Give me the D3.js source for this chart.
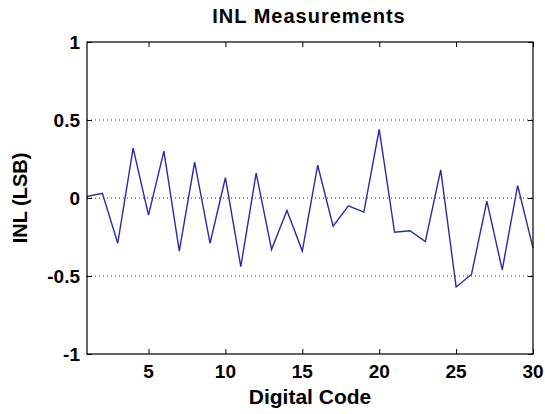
<!DOCTYPE html>
<html>
<head>
<meta charset="utf-8">
<script src="https://cdn.jsdelivr.net/npm/d3@7"></script>
<style>
    html, body { margin: 0; padding: 0; background: #fff; }
    svg { display: block; font-family: Arial, "Liberation Sans", sans-serif; }
</style>
</head>
<body>
<svg id="chart"></svg>
<script>
// INL per digital code
const codes = d3.range(1, 31);
const inl = [0.01, 0.03, -0.29, 0.32, -0.11, 0.30, -0.34, 0.23, -0.29, 0.13,
             -0.44, 0.16, -0.33, -0.08, -0.34, 0.21, -0.18, -0.05, -0.09, 0.44,
             -0.22, -0.21, -0.28, 0.18, -0.57, -0.49, -0.02, -0.46, 0.08, -0.32];
const xTicks = [5, 10, 15, 20, 25, 30];
const yTicks = [-1, -0.5, 0, 0.5, 1];
const gridLines = [-0.5, 0, 0.5];

const width = 545, height = 414;
const margin = { top: 42, right: 12, bottom: 60, left: 87 };

const svg = d3.select('#chart').attr('width', width).attr('height', height);

const x = d3.scaleLinear().domain([1, 30]).range([margin.left, width - margin.right]);
const y = d3.scaleLinear().domain([-1, 1]).range([height - margin.bottom, margin.top]);

// dotted grid
svg.append('g')
    .selectAll('line')
    .data(gridLines)
    .enter().append('line')
    .attr('x1', x(1)).attr('x2', x(30))
    .attr('y1', d => y(d)).attr('y2', d => y(d))
    .attr('stroke', '#333')
    .attr('stroke-width', 1)
    .attr('stroke-dasharray', '1,3');

// data line
const line = d3.line()
    .x((d, i) => x(codes[i]))
    .y(d => y(d));

svg.append('path')
    .datum(inl)
    .attr('fill', 'none')
    .attr('stroke', '#2a2aa8')
    .attr('stroke-width', 1.4)
    .attr('d', line);

// box + inward ticks (matlab style)
const tickLen = 5;
svg.append('g')
    .attr('transform', `translate(0,${y(-1)})`)
    .call(d3.axisBottom(x).tickValues(xTicks).tickSizeInner(-tickLen).tickSizeOuter(0).tickFormat(''))
    .call(g => g.select('.domain').remove());
svg.append('g')
    .attr('transform', `translate(0,${y(1)})`)
    .call(d3.axisTop(x).tickValues(xTicks).tickSizeInner(-tickLen).tickSizeOuter(0).tickFormat(''))
    .call(g => g.select('.domain').remove());
svg.append('g')
    .attr('transform', `translate(${x(1)},0)`)
    .call(d3.axisLeft(y).tickValues(yTicks).tickSizeInner(-tickLen).tickSizeOuter(0).tickFormat(''))
    .call(g => g.select('.domain').remove());
svg.append('g')
    .attr('transform', `translate(${x(30)},0)`)
    .call(d3.axisRight(y).tickValues(yTicks).tickSizeInner(-tickLen).tickSizeOuter(0).tickFormat(''))
    .call(g => g.select('.domain').remove());

svg.selectAll('.tick line').attr('stroke', '#000');

svg.append('rect')
    .attr('x', x(1)).attr('y', y(1))
    .attr('width', x(30) - x(1)).attr('height', y(-1) - y(1))
    .attr('fill', 'none')
    .attr('stroke', '#000')
    .attr('stroke-width', 1.2);

// tick labels
svg.append('g')
    .selectAll('text')
    .data(xTicks)
    .enter().append('text')
    .attr('x', d => x(d))
    .attr('y', y(-1) + 24)
    .attr('text-anchor', 'middle')
    .attr('font-size', 19)
    .attr('font-weight', 'bold')
    .text(d => d);

svg.append('g')
    .selectAll('text')
    .data(yTicks)
    .enter().append('text')
    .attr('x', x(1) - 7)
    .attr('y', d => y(d))
    .attr('dy', '0.36em')
    .attr('text-anchor', 'end')
    .attr('font-size', 19)
    .attr('font-weight', 'bold')
    .text(d => d);

// titles
svg.append('text')
    .attr('x', 309).attr('y', 23)
    .attr('text-anchor', 'middle')
    .attr('font-size', 20)
    .attr('font-weight', 'bold')
    .attr('letter-spacing', 1)
    .text('INL Measurements');

svg.append('text')
    .attr('x', (x(1) + x(30)) / 2).attr('y', 404)
    .attr('text-anchor', 'middle')
    .attr('font-size', 21)
    .attr('font-weight', 'bold')
    .text('Digital Code');

svg.append('text')
    .attr('transform', `translate(27,${y(0)}) rotate(-90)`)
    .attr('text-anchor', 'middle')
    .attr('font-size', 20)
    .attr('font-weight', 'bold')
    .text('INL (LSB)');
</script>
</body>
</html>
